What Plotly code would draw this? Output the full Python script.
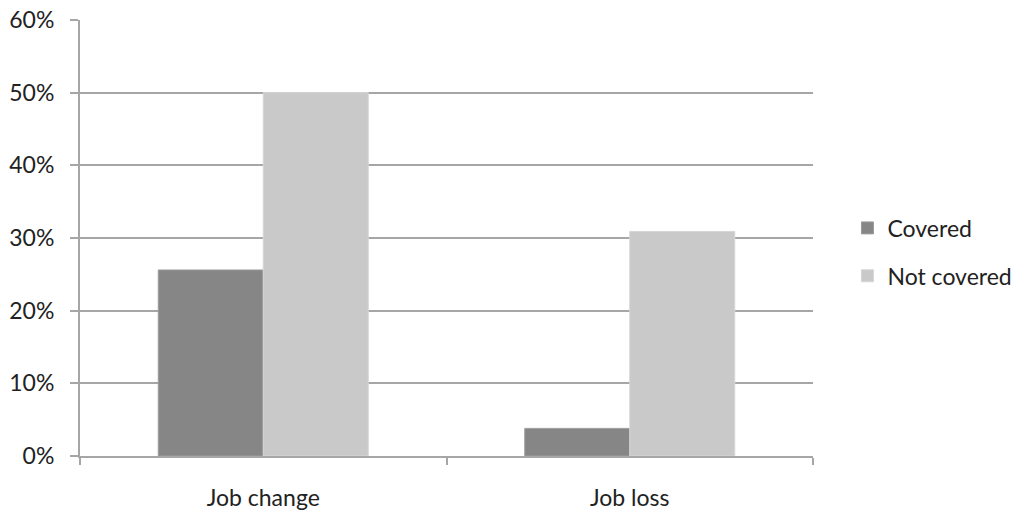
import plotly.graph_objects as go

categories = ["Job change", "Job loss"]
covered = [0.256, 0.038]
not_covered = [0.50, 0.309]
y_ticks = [0, 0.1, 0.2, 0.3, 0.4, 0.5, 0.6]

FONT = "Lato, 'Open Sans', sans-serif"
AXIS_GRAY = "#a6a6a6"

fig = go.Figure()
fig.add_trace(go.Bar(
    name="Covered", x=categories, y=covered, legendgroup="a",
    marker=dict(color="#868686", line=dict(color="#9c9c9c", width=1)),
))
fig.add_trace(go.Bar(
    name="Not covered", x=categories, y=not_covered, legendgroup="b",
    marker=dict(color="#c9c9c9", line=dict(color="#d6d6d6", width=1)),
))

fig.update_layout(
    width=1022, height=511,
    margin=dict(l=80, r=209, t=20, b=55, autoexpand=False),
    paper_bgcolor="white", plot_bgcolor="white",
    barmode="group", bargap=0.427, bargroupgap=0,
    font=dict(family=FONT, size=23, color="#222222"),
    legend=dict(
        x=1.047, xanchor="left", y=0.468, yanchor="middle",
        font=dict(size=23), tracegroupgap=15,
        itemwidth=30,
    ),
    showlegend=True,
)
fig.update_yaxes(
    range=[0, 0.6], tickvals=y_ticks, tickformat=".0%",
    showgrid=True, gridcolor=AXIS_GRAY, gridwidth=2,
    showline=True, linecolor=AXIS_GRAY, linewidth=2,
    ticks="outside", ticklen=8, tickcolor=AXIS_GRAY, tickwidth=2,
    ticklabelstandoff=11, zeroline=False, automargin=False,
)
fig.update_xaxes(
    showline=True, linecolor=AXIS_GRAY, linewidth=2,
    ticks="outside", tickson="boundaries", ticklen=7,
    tickcolor=AXIS_GRAY, tickwidth=2, ticklabelstandoff=20,
    showgrid=False, automargin=False,
)

fig.write_html("out.html")
